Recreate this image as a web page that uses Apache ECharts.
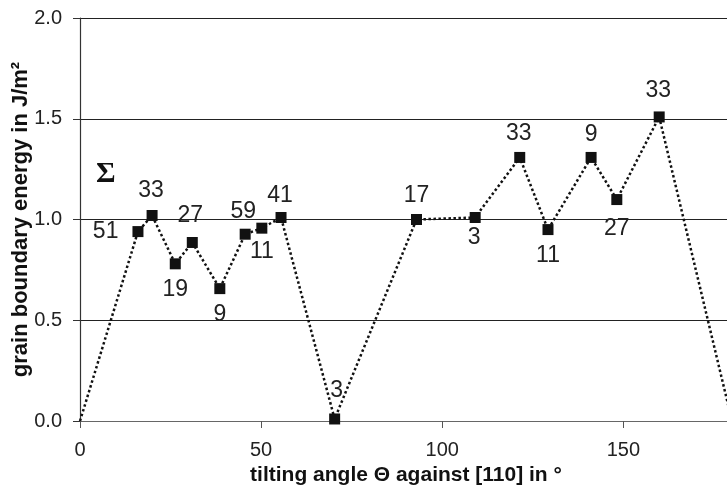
<!DOCTYPE html>
<html>
<head>
<meta charset="utf-8">
<script src="https://cdn.jsdelivr.net/npm/echarts@6/dist/echarts.min.js"></script>
<style>
html,body{margin:0;padding:0;background:#fff;}
#chart{width:727px;height:485px;}
</style>
</head>
<body>
<div id="chart"></div>
<script>
// tilting angle (deg)
const angles = [0, 16.0, 19.9, 26.3, 31.0, 38.6, 45.6, 50.2, 55.5, 70.3, 92.9, 109.1, 121.4, 129.2, 141.1, 148.2, 159.9, 180];
// grain boundary energy (J/m^2)
const energies = [0, 0.94, 1.02, 0.78, 0.886, 0.657, 0.927, 0.957, 1.01, 0.01, 1.0, 1.01, 1.308, 0.95, 1.308, 1.099, 1.509, 0];
// Sigma values
const sigmaLabels = ['', '51', '33', '19', '27', '9', '59', '11', '41', '3', '17', '3', '33', '11', '9', '27', '33', ''];
const xTicks = [0, 50, 100, 150];
const yTicks = [0, 0.5, 1.0, 1.5, 2.0];

// label placement (style only)
const labelSide = ['none','left','top','bottom','top','bottom','top','bottom','top','top','top','bottom','top','bottom','top','bottom','top','none'];
const labelGap  = [0, 14, 8, 9, 10, 8.7, 5.3, 6.7, 5.3, 11.7, 7.3, 3, 7, 8.7, 5.3, 12, 9, 0];
const labelDx   = [0, 0, -1, 0, -2, 0, -2, 0, -1, 2, 0, -1, -1, 0, 0, 0, -1, 0];

const data = angles.map((a, i) => {
  const item = { value: [a, energies[i]] };
  if (!sigmaLabels[i]) {
    item.symbol = 'none';
    item.label = { show: false };
  } else {
    item.label = {
      show: true,
      formatter: sigmaLabels[i],
      position: labelSide[i],
      distance: labelGap[i],
      offset: [labelDx[i], 0]
    };
  }
  return item;
});

const chart = echarts.init(document.getElementById('chart'), null, { renderer: 'canvas' });
const font = 'Liberation Sans, Arial, sans-serif';
chart.setOption({
  animation: false,
  backgroundColor: '#fff',
  grid: { left: 80, top: 18, width: 652, height: 403, containLabel: false, outerBoundsMode: 'none' },
  xAxis: {
    type: 'value', min: 0, max: 180, interval: 50,
    name: 'tilting angle Θ against [110] in °',
    nameLocation: 'middle', nameGap: 44, nameMoveOverlap: false,
    nameTextStyle: { fontFamily: font, fontWeight: 'bold', fontSize: 21, color: '#111' },
    axisLine: { show: true, onZero: false, lineStyle: { color: '#666', width: 1.2 } },
    axisTick: { show: true, inside: false, length: 7, lineStyle: { color: '#555' } },
    axisLabel: {
      fontFamily: font, fontSize: 20, color: '#222', margin: 19,
      showMaxLabel: false,
      formatter: v => xTicks.includes(v) ? String(v) : ''
    },
    splitLine: { show: false }
  },
  yAxis: {
    type: 'value', min: 0, max: 2, interval: 0.5,
    name: 'grain boundary energy in J/m²',
    nameLocation: 'middle', nameGap: 48, nameMoveOverlap: false,
    nameTextStyle: { fontFamily: font, fontWeight: 'bold', fontSize: 22, color: '#111' },
    axisLine: { show: true, lineStyle: { color: '#333', width: 1.2 } },
    axisTick: { show: true, inside: false, length: 7, lineStyle: { color: '#333' } },
    axisLabel: {
      fontFamily: font, fontSize: 20, color: '#222', margin: 18,
      formatter: v => yTicks.some(t => Math.abs(t - v) < 1e-9) ? v.toFixed(1) : ''
    },
    splitLine: { show: true, lineStyle: { color: '#222', width: 1 } }
  },
  graphic: [{
    type: 'text', left: 96, top: 159,
    style: { text: 'Σ', font: 'bold 30px "Liberation Serif", "DejaVu Serif", serif', fill: '#111' }
  }],
  series: [{
    type: 'line',
    data: data,
    symbol: 'rect',
    symbolSize: 11,
    itemStyle: { color: '#111' },
    lineStyle: { color: '#111', width: 2.5, type: 'dotted' },
    label: { fontFamily: font, fontSize: 23, color: '#222' },
    z: 5
  }]
});
</script>
</body>
</html>
